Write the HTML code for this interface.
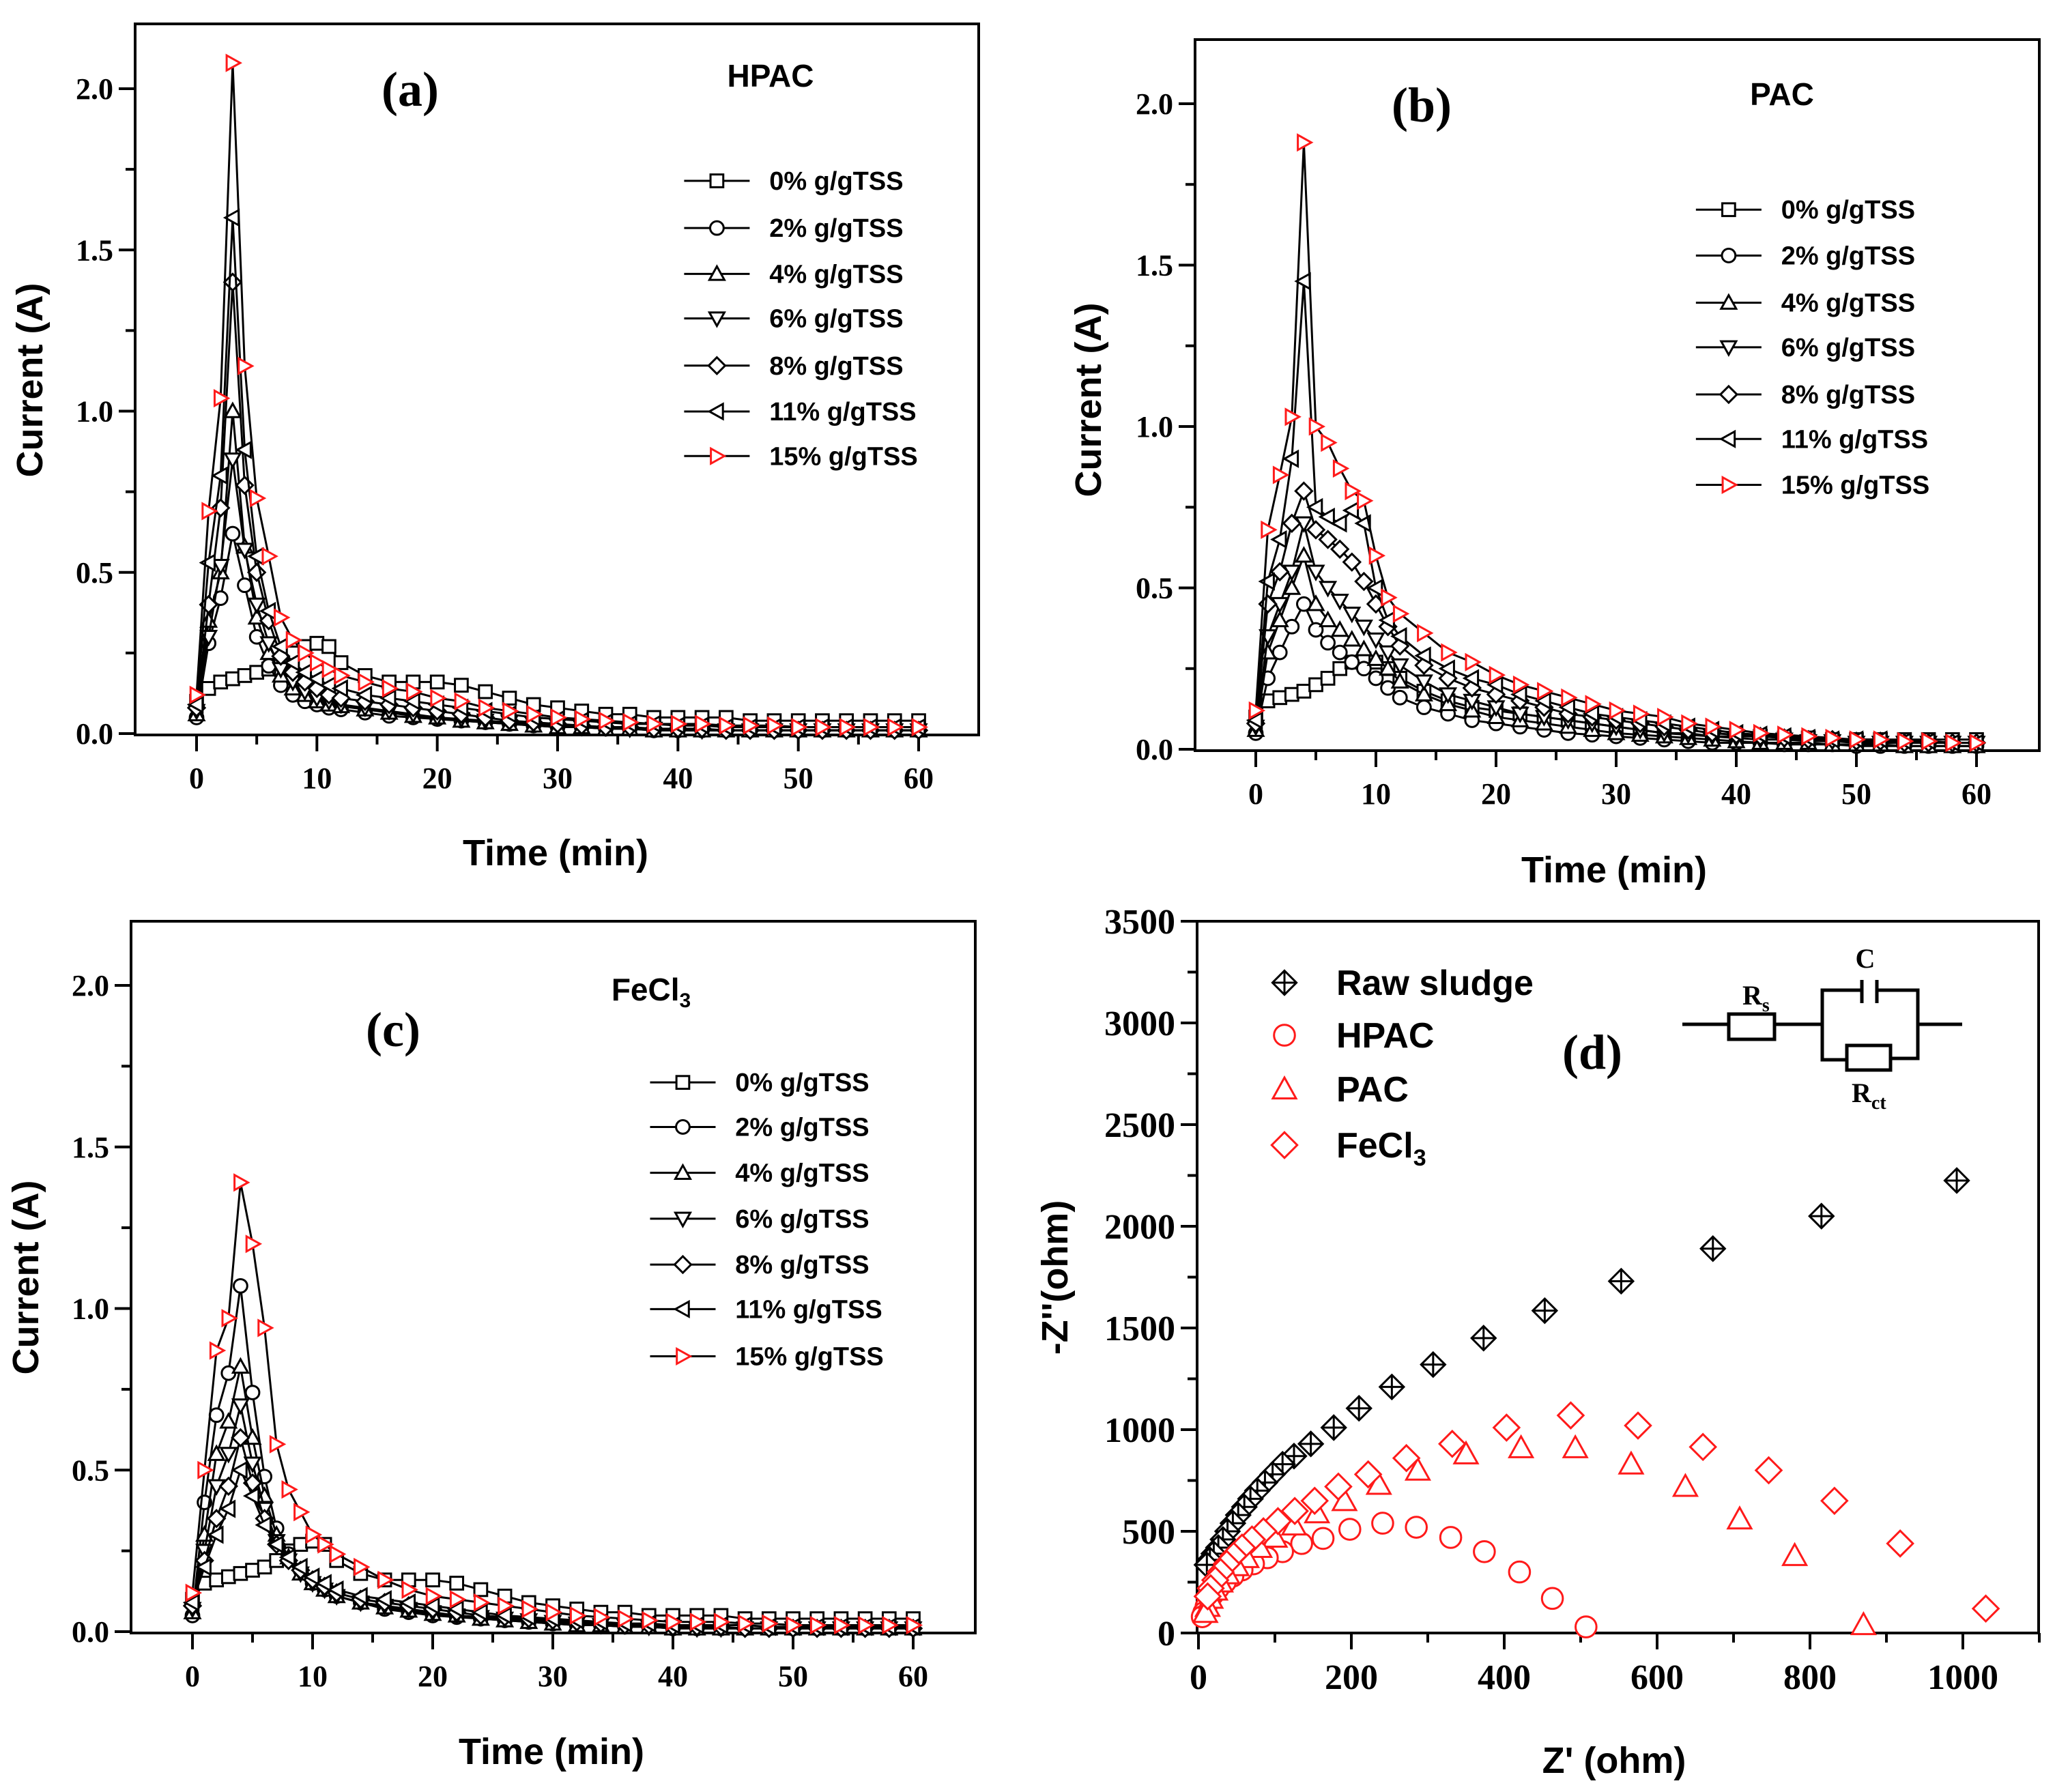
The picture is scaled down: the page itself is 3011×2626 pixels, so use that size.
<!DOCTYPE html>
<html><head><meta charset="utf-8"><style>
html,body{margin:0;padding:0;background:#fff;}
svg{display:block;}
.tk{font-family:"Liberation Serif",serif;font-weight:bold;font-size:44px;fill:#000;}
.tkd{font-family:"Liberation Serif",serif;font-weight:bold;font-size:52px;fill:#000;}
.ax{font-family:"Liberation Sans",sans-serif;font-weight:bold;font-size:54px;fill:#000;}
.lg{font-family:"Liberation Sans",sans-serif;font-weight:bold;font-size:38px;fill:#000;}
.pl{font-family:"Liberation Serif",serif;font-weight:bold;font-size:72px;fill:#000;}
.tt{font-family:"Liberation Sans",sans-serif;font-weight:bold;font-size:46px;fill:#000;}
.lg2{font-family:"Liberation Sans",sans-serif;font-weight:bold;font-size:52px;fill:#000;}
.ck{font-family:"Liberation Serif",serif;font-weight:bold;font-size:40px;fill:#000;}
</style></head><body>
<svg id="fig" xmlns="http://www.w3.org/2000/svg" width="3011" height="2626" viewBox="0 0 3011 2626">
<text class="pl" x="601" y="155" text-anchor="middle">(a)</text>
<text class="tt" x="1129" y="127" text-anchor="middle">HPAC</text>
<text class="pl" x="2083" y="178" text-anchor="middle">(b)</text>
<text class="tt" x="2611" y="154" text-anchor="middle">PAC</text>
<text class="pl" x="576" y="1533" text-anchor="middle">(c)</text>
<text class="tt" x="954" y="1466" text-anchor="middle">FeCl<tspan font-size="30" dy="10">3</tspan></text>
<text class="pl" x="2333" y="1566" text-anchor="middle">(d)</text>
<g stroke="#000" stroke-width="5" fill="none">
<line x1="2465" y1="1501" x2="2533" y2="1501"/><rect x="2533" y="1486" width="67" height="37"/>
<line x1="2600" y1="1501" x2="2670" y2="1501"/>
<polyline points="2728,1451 2670,1451 2670,1553 2706,1553"/>
<line x1="2728" y1="1436" x2="2728" y2="1470"/><line x1="2750" y1="1436" x2="2750" y2="1470"/>
<polyline points="2750,1451 2810,1451 2810,1551 2770,1551"/>
<rect x="2706" y="1532" width="64" height="36"/>
<line x1="2810" y1="1501" x2="2875" y2="1501"/>
</g>
<text class="ck" x="2553" y="1472">R<tspan font-size="28" dy="10">s</tspan></text>
<text class="ck" x="2733" y="1418" text-anchor="middle">C</text>
<text class="ck" x="2713" y="1615">R<tspan font-size="28" dy="10">ct</tspan></text>
</svg>
<script>
// ---- data ----
const timeMin = [0,1,2,3,4,5,6,7,8,9,10,11,12,14,16,18,20,22,24,26,28,30,32,34,36,38,40,42,44,46,48,50,52,54,56,58,60];
const seriesLabels = ["0% g/gTSS","2% g/gTSS","4% g/gTSS","6% g/gTSS","8% g/gTSS","11% g/gTSS","15% g/gTSS"];
const hpac0 = [0.10,0.14,0.16,0.17,0.18,0.19,0.20,0.22,0.25,0.27,0.28,0.27,0.22,0.18,0.16,0.16,0.16,0.15,0.13,0.11,0.09,0.08,0.07,0.06,0.06,0.05,0.05,0.05,0.05,0.04,0.04,0.04,0.04,0.04,0.04,0.04,0.04];
const hpac2 = [0.05,0.28,0.42,0.62,0.46,0.30,0.21,0.15,0.12,0.10,0.09,0.08,0.075,0.065,0.055,0.05,0.045,0.04,0.035,0.03,0.025,0.02,0.02,0.015,0.015,0.01,0.01,0.01,0.01,0.01,0.01,0.01,0.01,0.01,0.01,0.01,0.01];
const hpac4 = [0.06,0.35,0.50,1.00,0.58,0.36,0.25,0.18,0.14,0.12,0.10,0.09,0.085,0.075,0.065,0.055,0.05,0.04,0.035,0.03,0.025,0.02,0.02,0.015,0.015,0.01,0.01,0.01,0.01,0.01,0.01,0.01,0.01,0.01,0.01,0.01,0.01];
const hpac6 = [0.07,0.30,0.52,0.85,0.57,0.40,0.28,0.20,0.16,0.13,0.11,0.10,0.09,0.08,0.07,0.06,0.05,0.045,0.04,0.035,0.03,0.025,0.02,0.02,0.015,0.015,0.01,0.01,0.01,0.01,0.01,0.01,0.01,0.01,0.01,0.01,0.01];
const hpac8 = [0.08,0.40,0.70,1.40,0.77,0.50,0.35,0.24,0.19,0.16,0.14,0.12,0.11,0.10,0.09,0.08,0.07,0.06,0.05,0.04,0.035,0.03,0.025,0.02,0.02,0.015,0.015,0.015,0.01,0.01,0.01,0.01,0.01,0.01,0.01,0.01,0.01];
const hpac11 = [0.09,0.53,0.80,1.60,0.88,0.55,0.38,0.27,0.22,0.19,0.17,0.15,0.14,0.12,0.11,0.10,0.09,0.08,0.07,0.06,0.05,0.045,0.04,0.035,0.03,0.03,0.025,0.025,0.02,0.02,0.02,0.02,0.02,0.02,0.02,0.02,0.02];
const hpac15 = [0.12,0.69,1.04,2.08,1.14,0.73,0.55,0.36,0.29,0.25,0.22,0.20,0.18,0.16,0.14,0.13,0.11,0.10,0.08,0.07,0.06,0.05,0.045,0.04,0.035,0.03,0.03,0.03,0.025,0.025,0.025,0.02,0.02,0.02,0.02,0.02,0.02];
const pac0 = [0.10,0.15,0.16,0.17,0.18,0.20,0.22,0.25,0.27,0.28,0.27,0.25,0.22,0.18,0.15,0.13,0.12,0.11,0.10,0.09,0.08,0.07,0.06,0.05,0.05,0.04,0.04,0.04,0.035,0.035,0.03,0.03,0.03,0.03,0.03,0.03,0.03];
const pac2 = [0.05,0.22,0.30,0.38,0.45,0.37,0.33,0.30,0.27,0.25,0.22,0.19,0.16,0.13,0.11,0.09,0.08,0.07,0.06,0.05,0.045,0.04,0.035,0.03,0.025,0.02,0.02,0.02,0.015,0.015,0.015,0.01,0.01,0.01,0.01,0.01,0.01];
const pac4 = [0.06,0.30,0.40,0.50,0.60,0.45,0.40,0.37,0.34,0.31,0.28,0.25,0.21,0.17,0.14,0.12,0.10,0.09,0.08,0.07,0.06,0.05,0.045,0.04,0.035,0.03,0.025,0.02,0.02,0.02,0.015,0.015,0.015,0.01,0.01,0.01,0.01];
const pac6 = [0.07,0.35,0.45,0.55,0.70,0.55,0.50,0.46,0.42,0.38,0.34,0.30,0.26,0.21,0.17,0.15,0.13,0.11,0.10,0.09,0.08,0.07,0.06,0.05,0.045,0.04,0.035,0.03,0.03,0.025,0.025,0.02,0.02,0.02,0.02,0.02,0.02];
const pac8 = [0.08,0.45,0.55,0.70,0.80,0.68,0.65,0.62,0.58,0.52,0.45,0.38,0.32,0.26,0.22,0.19,0.17,0.15,0.13,0.11,0.10,0.09,0.08,0.07,0.06,0.05,0.045,0.04,0.035,0.03,0.03,0.025,0.025,0.02,0.02,0.02,0.02];
const pac11 = [0.09,0.52,0.65,0.90,1.45,0.75,0.72,0.70,0.74,0.70,0.50,0.40,0.35,0.29,0.25,0.22,0.20,0.17,0.15,0.13,0.11,0.10,0.09,0.08,0.07,0.06,0.05,0.045,0.04,0.035,0.03,0.03,0.03,0.025,0.025,0.02,0.02];
const pac15 = [0.12,0.68,0.85,1.03,1.88,1.00,0.95,0.87,0.80,0.77,0.60,0.47,0.42,0.36,0.30,0.27,0.23,0.20,0.18,0.16,0.14,0.12,0.11,0.10,0.08,0.07,0.06,0.05,0.045,0.04,0.035,0.03,0.03,0.025,0.025,0.02,0.02];
const fe0 = [0.10,0.15,0.16,0.17,0.18,0.19,0.20,0.22,0.25,0.27,0.28,0.27,0.22,0.18,0.16,0.16,0.16,0.15,0.13,0.11,0.09,0.08,0.07,0.06,0.06,0.05,0.05,0.05,0.05,0.04,0.04,0.04,0.04,0.04,0.04,0.04,0.04];
const fe2 = [0.05,0.40,0.67,0.80,1.07,0.74,0.48,0.32,0.24,0.19,0.15,0.13,0.11,0.09,0.07,0.06,0.05,0.045,0.04,0.035,0.03,0.025,0.02,0.02,0.015,0.015,0.01,0.01,0.01,0.01,0.01,0.01,0.01,0.01,0.01,0.01,0.01];
const fe4 = [0.06,0.30,0.55,0.65,0.82,0.60,0.42,0.30,0.23,0.18,0.15,0.13,0.11,0.09,0.075,0.065,0.055,0.05,0.04,0.035,0.03,0.025,0.02,0.02,0.015,0.015,0.01,0.01,0.01,0.01,0.01,0.01,0.01,0.01,0.01,0.01,0.01];
const fe6 = [0.07,0.25,0.45,0.55,0.70,0.52,0.38,0.28,0.22,0.18,0.15,0.13,0.11,0.09,0.08,0.07,0.06,0.05,0.045,0.04,0.035,0.03,0.025,0.02,0.02,0.015,0.015,0.01,0.01,0.01,0.01,0.01,0.01,0.01,0.01,0.01,0.01];
const fe8 = [0.08,0.22,0.35,0.45,0.60,0.46,0.35,0.27,0.22,0.19,0.16,0.14,0.12,0.10,0.09,0.08,0.07,0.06,0.05,0.045,0.04,0.035,0.03,0.025,0.02,0.02,0.015,0.015,0.015,0.01,0.01,0.01,0.01,0.01,0.01,0.01,0.01];
const fe11 = [0.09,0.20,0.30,0.38,0.50,0.42,0.33,0.27,0.23,0.20,0.17,0.15,0.13,0.11,0.10,0.09,0.08,0.07,0.06,0.05,0.045,0.04,0.035,0.03,0.025,0.025,0.02,0.02,0.02,0.02,0.015,0.015,0.015,0.015,0.015,0.015,0.015];
const fe15 = [0.12,0.50,0.87,0.97,1.39,1.20,0.94,0.58,0.44,0.37,0.30,0.27,0.24,0.20,0.16,0.13,0.11,0.10,0.09,0.08,0.07,0.06,0.05,0.045,0.04,0.035,0.03,0.03,0.03,0.025,0.025,0.02,0.02,0.02,0.02,0.02,0.02];
const currentTicks = [0,0.5,1.0,1.5,2.0];
const currentTickLabels = ["0.0","0.5","1.0","1.5","2.0"];
const timeTicks = [0,10,20,30,40,50,60];
// EIS
const rawX = [992,815,673,553,453,373,307,253,210,177,147,125,110,97,87,77,68,60,52,45,38,32,26,20,15,11];
const rawY = [2225,2050,1890,1730,1585,1450,1320,1210,1105,1010,930,870,830,780,740,700,660,620,580,540,500,460,420,390,360,335];
const hpacX = [507,463,420,374,330,285,241,198,163,135,110,90,72,57,45,35,26,19,14,10,7,5];
const hpacY = [30,170,300,400,470,520,540,510,465,440,400,370,340,310,280,250,220,190,160,130,100,80];
const pacX = [870,780,708,637,566,493,422,350,287,236,191,155,125,100,80,63,50,38,29,22,16,12,9];
const pacY = [40,380,560,720,830,910,910,880,800,730,650,590,530,470,420,370,330,290,250,210,170,130,100];
const feX = [1030,918,832,746,660,575,487,403,332,272,222,183,152,126,104,85,70,57,46,37,29,22,16,12];
const feY = [120,440,650,800,915,1020,1070,1010,930,860,780,720,650,600,550,500,460,420,380,340,300,260,220,180];
const zTicksX = [0,200,400,600,800,1000];
const zTicksY = [0,500,1000,1500,2000,2500,3000,3500];

const NS="http://www.w3.org/2000/svg";
const svg=document.getElementById('fig');
function mk(tag,attrs,parent){const e=document.createElementNS(NS,tag);for(const k in attrs)e.setAttribute(k,attrs[k]);(parent||svg).appendChild(e);return e;}
function marker(shape,x,y,r,color,parent){
  const st={fill:'#fff',stroke:color,'stroke-width':3};
  let e;
  if(shape==='square'){e=mk('rect',Object.assign({x:x-r*0.85,y:y-r*0.85,width:r*1.7,height:r*1.7},st),parent);}
  else if(shape==='circle'){e=mk('circle',Object.assign({cx:x,cy:y,r:r*0.9},st),parent);}
  else{let p;
    if(shape==='up')p=[[x,y-r],[x+r,y+r*0.8],[x-r,y+r*0.8]];
    else if(shape==='down')p=[[x,y+r],[x+r,y-r*0.8],[x-r,y-r*0.8]];
    else if(shape==='left')p=[[x-r,y],[x+r*0.8,y-r],[x+r*0.8,y+r]];
    else if(shape==='right')p=[[x+r,y],[x-r*0.8,y-r],[x-r*0.8,y+r]];
    else p=[[x,y-r*1.1],[x+r*1.1,y],[x,y+r*1.1],[x-r*1.1,y]];
    e=mk('polygon',Object.assign({points:p.map(q=>q.join(',')).join(' ')},st),parent);}
  return e;
}
const shapes=['square','circle','up','down','diamond','left','right'];

function timePanel(cfg){
  const g=mk('g',{});
  
  
  const sx=v=>cfg.x0+(v-0)*(cfg.x60-cfg.x0)/60;
  const sy=v=>cfg.y0-(v)*(cfg.y0-cfg.y2)/2;
  const fr=mk('rect',{x:cfg.L,y:cfg.T,width:cfg.R-cfg.L,height:cfg.B-cfg.T,fill:'none',stroke:'#000','stroke-width':4},g);
  
  
  for(let v=0;v<=60;v+=5){const X=sx(v);mk('line',{x1:X,y1:cfg.B,x2:X,y2:cfg.B+(v%10===0?24:14),stroke:'#000','stroke-width':4},g);}
  timeTicks.forEach(v=>{const t=mk('text',{x:sx(v),y:cfg.B+78,'text-anchor':'middle',class:'tk'},g);t.textContent=v;
    
    });
  for(let v=0;v<=2.0001;v+=0.25){const Y=sy(v);mk('line',{x1:cfg.L,y1:Y,x2:cfg.L-(Math.abs(v*2-Math.round(v*2))<0.01?24:14),y2:Y,stroke:'#000','stroke-width':4},g);}
  currentTicks.forEach((v,i)=>{const t=mk('text',{x:cfg.L-32,y:sy(v)+15,'text-anchor':'end',class:'tk'},g);t.textContent=currentTickLabels[i];
    
    });
  const yt=mk('text',{x:0,y:0,'text-anchor':'middle',class:'ax',transform:`translate(${cfg.ytx},${cfg.yty}) rotate(-90)`},g);yt.textContent='Current (A)';
  
  
  const xt=mk('text',{x:cfg.xtx,y:cfg.xty,'text-anchor':'middle',class:'ax'},g);xt.textContent='Time (min)';
  
  
  cfg.series.forEach((arr,si)=>{
    const sg=mk('g',{},g);
    
    
    const pts=arr.map((v,i)=>sx(timeMin[i])+','+sy(v)).join(' ');
    mk('polyline',{points:pts,fill:'none',stroke:'#000','stroke-width':3},sg);
    const col=si===6?'#ff1a1a':'#000';
    arr.forEach((v,i)=>{const m=marker(shapes[si],sx(timeMin[i]),sy(v),11,col,sg);
      
      });
  });
  seriesLabels.forEach((lab,i)=>{
    const y=cfg.legY[i];
    const lg=mk('g',{},g);
    
    
    mk('line',{x1:cfg.legX1,y1:y,x2:cfg.legX2,y2:y,stroke:'#000','stroke-width':3},lg);
    marker(shapes[i],(cfg.legX1+cfg.legX2)/2,y,11,i===6?'#ff1a1a':'#000',lg);
    const t=mk('text',{x:cfg.legTX,y:y+13,class:'lg'},lg);t.textContent=lab;
  });
}
const sc=1.9203;
timePanel({name:'panel-a-hpac',L:198,R:1434,T:35,B:1077,x0:288,x60:1346,y0:1075,y2:130,
  series:[hpac0,hpac2,hpac4,hpac6,hpac8,hpac11,hpac15],ytx:62,yty:557,xtx:814,xty:1268,
  legX1:522*sc,legX2:572*sc,legTX:587*sc,legY:[138,174,209,243,279,314,348].map(v=>v*sc)});
timePanel({name:'panel-b-pac',L:1751,R:2988,T:58,B:1100,x0:1840,x60:2896,y0:1098,y2:152,
  series:[pac0,pac2,pac4,pac6,pac8,pac11,pac15],ytx:1613,yty:586,xtx:2365,xty:1293,
  legX1:1294*sc,legX2:1344*sc,legTX:1359*sc,legY:[160,195,231,265,301,335,370].map(v=>v*sc)});
timePanel({name:'panel-c-fecl3',L:192,R:1429,T:1350,B:2393,x0:282,x60:1338,y0:2391,y2:1444,
  series:[fe0,fe2,fe4,fe6,fe8,fe11,fe15],ytx:56,yty:1872,xtx:808,xty:2585,
  legX1:496*sc,legX2:546*sc,legTX:561*sc,legY:[826,860,895,930,965,999,1035].map(v=>v*sc)});

(function(){
  const g=mk('g',{});
  
  
  const L=1754,R=2987,T=1350,B=2393;
  const sx=v=>1756+v*1.12;
  const sy=v=>2393-v*(2393-1350)/3500;
  mk('rect',{x:L,y:T,width:R-L,height:B-T,fill:'none',stroke:'#000','stroke-width':4},g);
  for(let v=0;v<=1100;v+=100){const X=sx(v);mk('line',{x1:X,y1:B,x2:X,y2:B+(v%200===0?24:14),stroke:'#000','stroke-width':4},g);}
  zTicksX.forEach(v=>{const t=mk('text',{x:sx(v),y:B+82,'text-anchor':'middle',class:'tkd'},g);t.textContent=v;
    
    });
  for(let v=0;v<=3500;v+=250){const Y=sy(v);mk('line',{x1:L,y1:Y,x2:L-(v%500===0?24:14),y2:Y,stroke:'#000','stroke-width':4},g);}
  zTicksY.forEach(v=>{const t=mk('text',{x:L-32,y:sy(v)+18,'text-anchor':'end',class:'tkd'},g);t.textContent=v;
    
    });
  const yt=mk('text',{x:0,y:0,'text-anchor':'middle',class:'ax',transform:'translate(1564,1872) rotate(-90)'},g);yt.textContent="-Z''(ohm)";
  
  
  const xt=mk('text',{x:2365,y:2598,'text-anchor':'middle',class:'ax'},g);xt.textContent="Z' (ohm)";
  
  
  function cross(x,y,r,parent){const m=marker('diamond',x,y,r,'#000',parent);mk('line',{x1:x-r*1.1,y1:y,x2:x+r*1.1,y2:y,stroke:'#000','stroke-width':3},parent);mk('line',{x1:x,y1:y-r*1.1,x2:x,y2:y+r*1.1,stroke:'#000','stroke-width':3},parent);return m;}
  const sets=[['raw-sludge',rawX,rawY,'cross','#000'],['hpac',hpacX,hpacY,'circle','#ff1a1a'],['pac',pacX,pacY,'up','#ff1a1a'],['fecl3',feX,feY,'diamond','#ff1a1a']];
  sets.forEach(s=>{
    const sg=mk('g',{},g);
    
    
    s[1].forEach((xv,i)=>{
      const m=s[3]==='cross'?cross(sx(xv),sy(s[2][i]),16,sg):marker(s[3],sx(xv),sy(s[2][i]),17,s[4],sg);
      
      
    });
  });
  const legLabels=['Raw sludge','HPAC','PAC','FeCl'];
  const legY=[1440,1517,1596,1678];
  legLabels.forEach((lab,i)=>{
    const lg=mk('g',{},g);
    
    
    if(i===0)cross(1882,legY[i],16,lg);else marker(sets[i][3],1882,legY[i],17,'#ff1a1a',lg);
    const t=mk('text',{x:1958,y:legY[i]+18,class:'lg2'},lg);t.textContent=lab;
    if(i===3){const ts=mk('tspan',{'font-size':34,dy:12},t);ts.textContent='3';}
  });
})();
</script>
</body></html>
